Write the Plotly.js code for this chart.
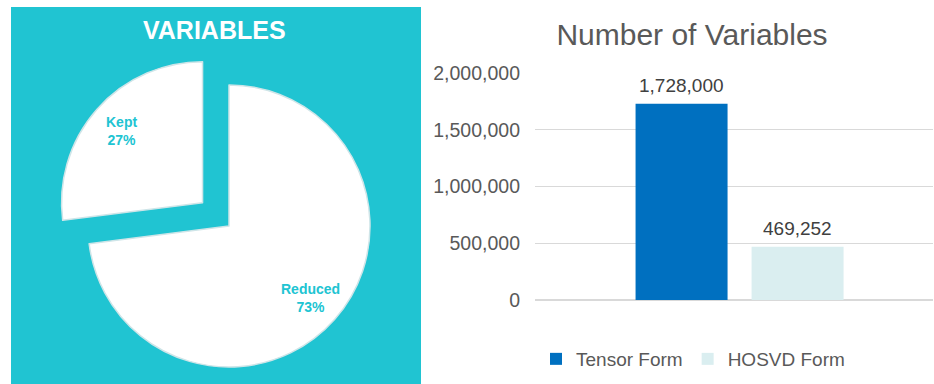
<!DOCTYPE html>
<html><head><meta charset="utf-8">
<script src="https://cdn.plot.ly/plotly-3.0.1.min.js"></script>
<style>
html,body{margin:0;padding:0;overflow:hidden;background:#fff}
#wrap{width:934px;height:384px;overflow:hidden;position:relative}
#chart{width:934px;height:460px}
</style></head>
<body><div id="wrap"><div id="chart"></div></div>
<script>
// ---- data ----
const pieTitle = 'VARIABLES';
const pieLabels = ['Reduced', 'Kept'];
const pieValues = [73, 27];
const piePull = [0, 0.25];
const barTitle = 'Number of Variables';
const barCategories = ['Variables'];
const seriesNames = ['Tensor Form', 'HOSVD Form'];
const tensorValues = [1728000];
const hosvdValues = [469252];
const yTickVals = [0, 500000, 1000000, 1500000, 2000000];

// ---- layout helpers (pixel -> paper) ----
const W = 934, H = 460;
const fx = x => x / W;
const fy = y => 1 - y / H;

const teal = '#20C4D2';
const font = 'Arial, "Liberation Sans", sans-serif';

// pie geometry (pixels)
const pieCx = 229, pieCy = 226, pieR = 141;
const maxPull = Math.max(...piePull);
const half = pieR * (1 + maxPull);

// slice labels placed at each slice's mid-angle (clockwise from 12 o'clock)
const total = pieValues.reduce((a, b) => a + b, 0);
let startDeg = 90;
const sliceAnnotations = pieValues.map((v, i) => {
  const span = 360 * v / total;
  const mid = (startDeg - span / 2) * Math.PI / 180;
  startDeg -= span;
  const dist = pieR * (piePull[i] + 0.77);
  const px = pieCx + dist * Math.cos(mid);
  const py = pieCy - dist * Math.sin(mid);
  return {
    text: pieLabels[i] + '<br>' + Math.round(100 * v / total) + '%',
    xref: 'paper', yref: 'paper', x: fx(px), y: fy(py),
    xanchor: 'center', yanchor: 'middle', showarrow: false,
    font: {family: font, size: 14, color: teal, weight: 'bold'}
  };
});

// bar grouping
const bargap = 0.417, bargroupgap = 0.207;
const barSeries = [tensorValues, hosvdValues];
const nSeries = barSeries.length;
const slot = (1 - bargap) / nSeries;
const valueAnnotations = [];
barSeries.forEach((vals, s) => {
  vals.forEach((v, k) => {
    valueAnnotations.push({
      text: v.toLocaleString('en-US'),
      xref: 'x', yref: 'y', x: k - (1 - bargap) / 2 + slot * (s + 0.5), y: v,
      xanchor: 'center', yanchor: 'bottom', yshift: 6, showarrow: false,
      font: {family: font, size: 19, color: '#404040'}
    });
  });
});

const traces = [
  {
    type: 'pie',
    labels: pieLabels,
    values: pieValues,
    pull: piePull,
    sort: false,
    direction: 'clockwise',
    rotation: 0,
    domain: {x: [fx(pieCx - half), fx(pieCx + half)], y: [fy(pieCy + half), fy(pieCy - half)]},
    marker: {colors: ['#ffffff', '#ffffff'], line: {color: '#cfe5e8', width: 1.5}},
    textinfo: 'none',
    showlegend: false,
    hoverinfo: 'skip'
  },
  {
    type: 'bar', name: seriesNames[0], x: barCategories, y: tensorValues,
    marker: {color: '#0070C0'}, textposition: 'none',
    hoverinfo: 'skip'
  },
  {
    type: 'bar', name: seriesNames[1], x: barCategories, y: hosvdValues,
    marker: {color: '#DAEEF0'}, textposition: 'none',
    hoverinfo: 'skip'
  }
];

const layout = {
  width: W, height: H,
  margin: {l: 0, r: 0, t: 0, b: 0, pad: 0},
  paper_bgcolor: '#ffffff', plot_bgcolor: 'rgba(0,0,0,0)',
  font: {family: font, color: '#595959'},
  title: {
    text: barTitle, x: fx(692), xref: 'paper', xanchor: 'center',
    y: fy(34), yref: 'container', yanchor: 'middle',
    font: {family: font, size: 30, color: '#595959'}
  },
  barmode: 'group', bargap: bargap, bargroupgap: bargroupgap,
  xaxis: {
    domain: [fx(535), fx(933)], range: [-0.514, 0.486],
    showticklabels: false, showgrid: false, zeroline: false, showline: false, fixedrange: true
  },
  yaxis: {
    domain: [fy(300), fy(73)], range: [0, 2000000],
    tickvals: yTickVals, tickformat: ',d',
    tickfont: {family: font, size: 19.5, color: '#595959'},
    ticklabelstandoff: 14,
    showgrid: true, gridcolor: '#d9d9d9', gridwidth: 1.3,
    zeroline: true, zerolinecolor: '#d9d9d9', zerolinewidth: 1.5,
    showline: false, fixedrange: true
  },
  showlegend: true,
  legend: {
    orientation: 'h', x: fx(693), xanchor: 'center', y: fy(359), yanchor: 'middle',
    font: {family: font, size: 19, color: '#595959'},
    bgcolor: 'rgba(0,0,0,0)'
  },
  shapes: [{
    type: 'rect', xref: 'paper', yref: 'paper', layer: 'below',
    x0: fx(11), x1: fx(421), y0: 0, y1: fy(7),
    fillcolor: teal, line: {width: 0}
  }],
  annotations: [{
    text: pieTitle, xref: 'paper', yref: 'paper', x: fx(214.5), y: fy(29.5),
    xanchor: 'center', yanchor: 'middle', showarrow: false,
    font: {family: font, size: 25, color: '#ffffff', weight: 'bold'}
  }].concat(sliceAnnotations, valueAnnotations)
};

Plotly.newPlot('chart', traces, layout, {staticPlot: true, displayModeBar: false});
</script>
</body></html>
